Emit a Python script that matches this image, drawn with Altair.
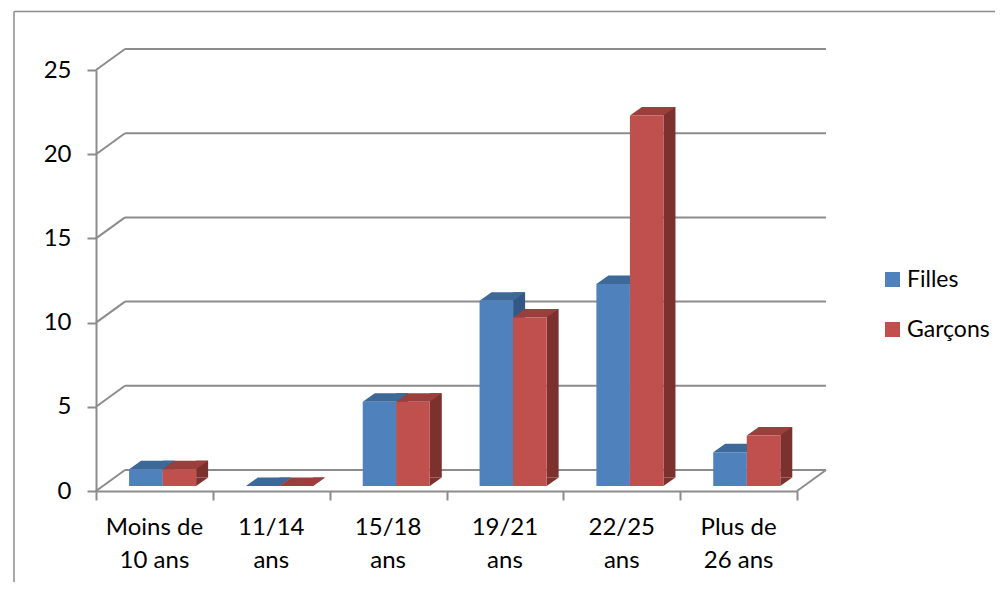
import altair as alt
import pandas as pd

# ---------------- data ----------------
categories = ["Moins de\n10 ans", "11/14\nans", "15/18\nans", "19/21\nans", "22/25\nans", "Plus de\n26 ans"]
series = ["Filles", "Garçons"]
filles = [1, 0, 5, 11, 12, 2]
garcons = [1, 0, 5, 10, 22, 3]
y_ticks = [0, 5, 10, 15, 20, 25]

# ---------------- styling ----------------
FONT = "Lato"
GRAY = "#8C8C8C"
FRONT = {"Filles": "#4F81BD", "Garçons": "#C0504D"}
TOP = {"Filles": "#3D6999", "Garçons": "#9A3F3C"}
SIDE = {"Filles": "#335885", "Garçons": "#7D312F"}

W, H = 701, 421
N = len(categories)
CAT_PX = W / N
BAR_START = 0.283   # in category units
BAR_W = 0.287       # in category units
BW_PX = BAR_W * CAT_PX
DX, DY = 12, 8.5    # bar depth
LIFT = 5            # bars sit slightly behind the front floor edge
WALL_DX, WALL_DY = 29, 21  # back wall depth

rows = []
for i, cat in enumerate(categories):
    rows.append({"cat": cat, "idx": i, "serie": series[0], "s": 0, "v": filles[i]})
    rows.append({"cat": cat, "idx": i, "serie": series[1], "s": 1, "v": garcons[i]})
df = pd.DataFrame(rows)
cat_df = pd.DataFrame({"cat": categories, "idx": list(range(N))})
tick_df = pd.DataFrame({"t": y_ticks})
one = pd.DataFrame({"t": [0]})

xs = alt.Scale(domain=[0, N], nice=False, zero=False)
ys = alt.Scale(domain=[0, 25], nice=False, zero=True)

y_axis = alt.Axis(values=y_ticks, title=None, grid=False, domainColor=GRAY, domainWidth=2,
                  tickColor=GRAY, tickWidth=2, tickSize=9, labelFont=FONT, labelFontSize=24,
                  labelColor="black", labelPadding=16)
x_axis = alt.Axis(values=list(range(N + 1)), labels=False, title=None, grid=False,
                  domainColor=GRAY, domainWidth=2, tickColor=GRAY, tickWidth=2, tickSize=9)


def X(field):
    return alt.X(field, type="quantitative", scale=xs, axis=x_axis)


def Y(field):
    return alt.Y(field, type="quantitative", scale=ys, axis=y_axis)


# frame of the chart area
frame_left = alt.Chart(one).mark_rule(color=GRAY, strokeWidth=1.5).encode(
    x=alt.value(-82), y=alt.value(-58.5), y2=alt.value(600))
frame_top = alt.Chart(one).mark_rule(color=GRAY, strokeWidth=1.5).encode(
    x=alt.value(-82), x2=alt.value(1000), y=alt.value(-58.5))

# back wall gridlines
grid_back = alt.Chart(tick_df).mark_rule(color=GRAY, strokeWidth=2, yOffset=-WALL_DY).encode(
    x=alt.value(WALL_DX), x2=alt.value(W + WALL_DX), y=Y("t"))
grid_diag = alt.Chart(tick_df).mark_rule(color=GRAY, strokeWidth=2, y2Offset=-WALL_DY).encode(
    x=alt.value(0), x2=alt.value(WALL_DX), y=Y("t"), y2="t")
floor_right = alt.Chart(one).mark_rule(color=GRAY, strokeWidth=2, y2Offset=-WALL_DY).encode(
    x=alt.value(W), x2=alt.value(W + WALL_DX), y=Y("t"), y2="t")

base = alt.Chart(df).transform_calculate(
    left=f"datum.idx + {BAR_START} + datum.s * {BAR_W}",
    right=f"datum.idx + {BAR_START} + (datum.s + 1) * {BAR_W}",
    zero="0",
)

legend = alt.Legend(
    orient="none", legendX=785, legendY=198, title=None,
    symbolType="square", symbolSize=225, symbolStrokeWidth=0,
    labelFont=FONT, labelFontSize=23, labelColor="black",
    rowPadding=26, labelOffset=3, padding=0,
)
color_scale = alt.Scale(domain=series, range=[FRONT[s] for s in series])

bar_layers = []
for k, s in enumerate(series):
    b = base.transform_filter(alt.datum.serie == s)
    side = b.mark_bar(color=SIDE[s], x2Offset=DX, yOffset=-(LIFT + DY), y2Offset=-(LIFT + DY)).encode(
        x=X("right"), x2="right", y=Y("v"), y2="zero")
    tri = b.mark_point(shape=f"M0,0L0,{-DY}L{DX},{-DY}Z", size=4, filled=True, opacity=1,
                       strokeWidth=0, color=SIDE[s], yOffset=-LIFT).encode(
        x=X("right"), y=Y("zero"))
    top = b.mark_point(shape=f"M0,0L{DX},{-DY}L{DX + BW_PX:.2f},{-DY}L{BW_PX:.2f},0Z", size=4,
                       filled=True, opacity=1, strokeWidth=0, color=TOP[s], yOffset=-LIFT).encode(
        x=X("left"), y=Y("v"))
    front = b.mark_bar(yOffset=-LIFT, y2Offset=-LIFT).encode(
        x=X("left"), x2="right", y=Y("v"), y2="zero",
        color=alt.Color("serie:N", scale=color_scale, legend=legend))
    bar_layers += [side, tri, top, front]

cat_labels = alt.Chart(cat_df).transform_calculate(center="datum.idx + 0.5").mark_text(
    align="center", baseline="top", lineBreak="\n", font=FONT, fontSize=24, lineHeight=33,
    color="black").encode(
    x=X("center"), y=alt.value(446), text="cat:N")

chart = alt.layer(frame_left, frame_top, grid_back, grid_diag, floor_right, *bar_layers, cat_labels).properties(
    width=W, height=H,
    padding={"left": 88, "top": 62, "right": 198, "bottom": 91},
    autosize=alt.AutoSizeParams(type="none"),
    background="white",
).configure_view(strokeWidth=0)

chart.save("out.html", embed_options={"renderer": "svg", "actions": False})
